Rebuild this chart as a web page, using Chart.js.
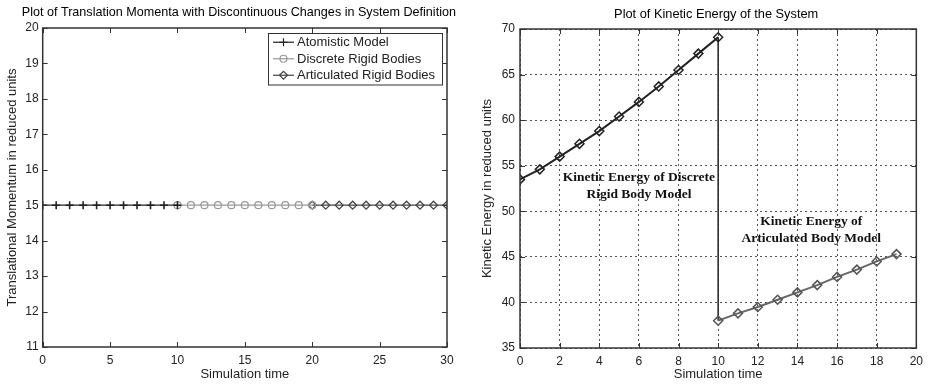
<!DOCTYPE html>
<html>
<head>
<meta charset="utf-8">
<script src="https://cdn.jsdelivr.net/npm/chart.js@4.4.0/dist/chart.umd.min.js"></script>
<style>
  html, body { margin:0; padding:0; background:#fff; }
  #wrap { position:relative; width:929px; height:385px; overflow:hidden; }
  canvas { position:absolute; top:0; }
</style>
</head>
<body>
<div id="wrap">
  <canvas id="momentum" width="465" height="385" style="left:0"></canvas>
  <canvas id="energy" width="464" height="385" style="left:465px"></canvas>
</div>
<script>
// left plot - translational momentum
var atomTime = [0, 1, 2, 3, 4, 5, 6, 7, 8, 9, 10];
var atomMomentum = [15, 15, 15, 15, 15, 15, 15, 15, 15, 15, 15];
var discreteTime = [10, 11, 12, 13, 14, 15, 16, 17, 18, 19, 20];
var discreteMomentum = [15, 15, 15, 15, 15, 15, 15, 15, 15, 15, 15];
var articTime = [20, 21, 22, 23, 24, 25, 26, 27, 28, 29, 30];
var articMomentum = [15, 15, 15, 15, 15, 15, 15, 15, 15, 15, 15];
var momentumLabels = ['Atomistic Model', 'Discrete Rigid Bodies', 'Articulated Rigid Bodies'];

// right plot - kinetic energy
var discreteKeTime = [0, 1, 2, 3, 4, 5, 6, 7, 8, 9, 10];
var discreteKe = [53.5, 54.6, 56.0, 57.4, 58.8, 60.4, 62.0, 63.7, 65.5, 67.3, 69.1];
var articKeTime = [10, 11, 12, 13, 14, 15, 16, 17, 18, 19];
var articKe = [38.0, 38.8, 39.5, 40.3, 41.1, 41.9, 42.8, 43.6, 44.5, 45.3];
var jumpTime = [10, 10];
var jumpKe = [69.1, 38.0];
var discreteNote = ['Kinetic Energy of Discrete', 'Rigid Body Model'];
var articNote = ['Kinetic Energy of', 'Articulated Body Model'];

Chart.defaults.font.family = '"Liberation Sans", Arial, sans-serif';
Chart.defaults.font.size = 12;
Chart.defaults.color = '#222';

function pts(xs, ys) {
  return xs.map(function(x, i) { return {x: x, y: ys[i]}; });
}

// matlab style box with inward ticks
var frame = {
  id: 'frame',
  afterDatasetsDraw: function(chart) {
    var ctx = chart.ctx, a = chart.chartArea;
    var xs = chart.scales.x, ys = chart.scales.y;
    ctx.save();
    ctx.strokeStyle = '#333';
    ctx.lineWidth = 1;
    ctx.beginPath();
    xs.ticks.forEach(function(t) {
      var px = Math.round(xs.getPixelForValue(t.value)) + 0.5;
      ctx.moveTo(px, a.bottom); ctx.lineTo(px, a.bottom - 5);
      ctx.moveTo(px, a.top); ctx.lineTo(px, a.top + 5);
    });
    ys.ticks.forEach(function(t) {
      var py = Math.round(ys.getPixelForValue(t.value)) + 0.5;
      ctx.moveTo(a.left, py); ctx.lineTo(a.left + 5, py);
      ctx.moveTo(a.right, py); ctx.lineTo(a.right - 5, py);
    });
    ctx.stroke();
    ctx.lineWidth = 1.5;
    ctx.strokeRect(a.left, a.top, a.right - a.left, a.bottom - a.top);
    ctx.restore();
  }
};

// title centred over the axes like matlab does
var axesTitle = {
  id: 'axesTitle',
  afterDraw: function(chart, args, opts) {
    var ctx = chart.ctx, a = chart.chartArea;
    ctx.save();
    ctx.fillStyle = '#000';
    ctx.font = opts.size + 'px "Liberation Sans", Arial, sans-serif';
    ctx.textAlign = 'center';
    ctx.textBaseline = 'middle';
    ctx.fillText(opts.text, (a.left + a.right) / 2 + opts.dx, opts.y);
    ctx.restore();
  }
};

var boxLegend = {
  id: 'boxLegend',
  afterDraw: function(chart, args, opts) {
    if (!opts.show) return;
    var ctx = chart.ctx, a = chart.chartArea;
    var dsets = chart.data.datasets;
    var x0 = a.right - opts.right - opts.width;
    var y0 = a.top + opts.top;
    var h = opts.rowHeight * dsets.length + opts.pad * 2;
    ctx.save();
    ctx.fillStyle = '#fff';
    ctx.fillRect(x0, y0, opts.width, h);
    ctx.strokeStyle = '#333';
    ctx.lineWidth = 1;
    ctx.strokeRect(x0 + 0.5, y0 + 0.5, opts.width, h);
    dsets.forEach(function(ds, i) {
      var cy = y0 + opts.pad + opts.rowHeight * (i + 0.5);
      ctx.strokeStyle = ds.borderColor;
      ctx.lineWidth = ds.borderWidth;
      ctx.beginPath();
      ctx.moveTo(x0 + 5, cy); ctx.lineTo(x0 + 26, cy);
      ctx.stroke();
      ctx.strokeStyle = ds.pointBorderColor;
      ctx.fillStyle = ds.pointBackgroundColor;
      Chart.helpers.drawPoint(ctx, {pointStyle: ds.pointStyle, radius: ds.pointRadius,
        borderWidth: ds.pointBorderWidth, rotation: 0}, x0 + 15.5, cy);
      ctx.fillStyle = '#222';
      ctx.font = '13px "Liberation Sans", Arial, sans-serif';
      ctx.textBaseline = 'middle';
      ctx.fillText(ds.label, x0 + 29, cy + 0.5);
    });
    ctx.restore();
  }
};

var notes = {
  id: 'notes',
  afterDraw: function(chart, args, opts) {
    if (!opts.items) return;
    var ctx = chart.ctx;
    ctx.save();
    ctx.fillStyle = '#111';
    ctx.font = 'bold 13.5px "Liberation Serif", "Times New Roman", serif';
    ctx.textAlign = 'center';
    ctx.textBaseline = 'middle';
    opts.items.forEach(function(it) {
      var px = chart.scales.x.getPixelForValue(it.x);
      var py = chart.scales.y.getPixelForValue(it.y);
      it.lines.forEach(function(line, i) {
        ctx.fillText(line, px, py + i * 16.5);
      });
    });
    ctx.restore();
  }
};

new Chart(document.getElementById('momentum'), {
  type: 'line',
  data: {
    datasets: [
      {label: momentumLabels[0], data: pts(atomTime, atomMomentum),
       borderColor: '#222', borderWidth: 1.2, pointStyle: 'cross', pointRadius: 4,
       pointBorderWidth: 1.6, pointBorderColor: '#222', pointBackgroundColor: 'rgba(0,0,0,0)'},
      {label: momentumLabels[1], data: pts(discreteTime, discreteMomentum),
       borderColor: '#999', borderWidth: 1.2, pointStyle: 'circle', pointRadius: 3.5,
       pointBorderWidth: 1.2, pointBorderColor: '#999', pointBackgroundColor: 'rgba(0,0,0,0)'},
      {label: momentumLabels[2], data: pts(articTime, articMomentum),
       borderColor: '#444', borderWidth: 1.2, pointStyle: 'rectRot', pointRadius: 4,
       pointBorderWidth: 1.2, pointBorderColor: '#444', pointBackgroundColor: 'rgba(0,0,0,0)'}
    ]
  },
  options: {
    responsive: false,
    animation: false,
    events: [],
    devicePixelRatio: 1,
    layout: {padding: {left: 0, right: 18, top: 28, bottom: 0}},
    plugins: {
      legend: {display: false},
      tooltip: {enabled: false},
      title: {display: false},
      axesTitle: {text: 'Plot of Translation Momenta with Discontinuous Changes in System Definition',
                  size: 12.6, y: 13, dx: -6},
      boxLegend: {show: true, width: 174, right: 5, top: 5, rowHeight: 16.5, pad: 1}
    },
    scales: {
      x: {type: 'linear', min: 0, max: 30,
          ticks: {stepSize: 5, padding: 6, maxRotation: 0},
          grid: {display: false, drawTicks: false},
          border: {display: false},
          title: {display: true, text: 'Simulation time', font: {size: 13}, padding: {top: 0, bottom: 3}},
          afterFit: function(s) { s.height = 38; }},
      y: {min: 11, max: 20,
          ticks: {stepSize: 1, padding: 4},
          grid: {display: false, drawTicks: false},
          border: {display: false},
          title: {display: true, text: 'Translational Momentum in reduced units', font: {size: 13}, padding: {top: 5, bottom: 0}},
          afterFit: function(s) { s.width = 42.7; }}
    }
  },
  plugins: [frame, axesTitle, boxLegend]
});

new Chart(document.getElementById('energy'), {
  type: 'line',
  data: {
    datasets: [
      {label: 'Discrete Rigid Body Model', data: pts(discreteKeTime, discreteKe),
       borderColor: '#222', borderWidth: 2, pointStyle: 'rectRot', pointRadius: 4.5,
       pointBorderWidth: 1.5, pointBorderColor: '#222', pointBackgroundColor: 'rgba(0,0,0,0)'},
      {label: 'Articulated Body Model', data: pts(articKeTime, articKe),
       borderColor: '#666', borderWidth: 2, pointStyle: 'rectRot', pointRadius: 4.5,
       pointBorderWidth: 1.5, pointBorderColor: '#555', pointBackgroundColor: 'rgba(0,0,0,0)'},
      {label: 'jump', data: pts(jumpTime, jumpKe),
       borderColor: '#222', borderWidth: 1.5, pointRadius: 0}
    ]
  },
  options: {
    responsive: false,
    animation: false,
    events: [],
    devicePixelRatio: 1,
    layout: {padding: {left: 0, right: 9, top: 29, bottom: 0}},
    plugins: {
      legend: {display: false},
      tooltip: {enabled: false},
      title: {display: false},
      axesTitle: {text: 'Plot of Kinetic Energy of the System', size: 12.8, y: 14, dx: -2},
      notes: {items: [
        {x: 6, y: 53.7, lines: discreteNote},
        {x: 14.7, y: 48.85, lines: articNote}
      ]}
    },
    scales: {
      x: {type: 'linear', min: 0, max: 20,
          ticks: {stepSize: 2, padding: 6, maxRotation: 0},
          grid: {display: true, drawTicks: false, color: '#555', lineWidth: 1},
          border: {display: false, dash: [2, 3]},
          title: {display: true, text: 'Simulation time', font: {size: 13}, padding: {top: 0, bottom: 3}},
          afterFit: function(s) { s.height = 37; }},
      y: {min: 35, max: 70,
          ticks: {stepSize: 5, padding: 5},
          grid: {display: true, drawTicks: false, color: '#555', lineWidth: 1},
          border: {display: false, dash: [2, 3]},
          title: {display: true, text: 'Kinetic Energy in reduced units', font: {size: 13}, padding: {top: 15, bottom: 0}},
          afterFit: function(s) { s.width = 55; }}
    }
  },
  plugins: [frame, axesTitle, notes]
});
</script>
</body>
</html>
